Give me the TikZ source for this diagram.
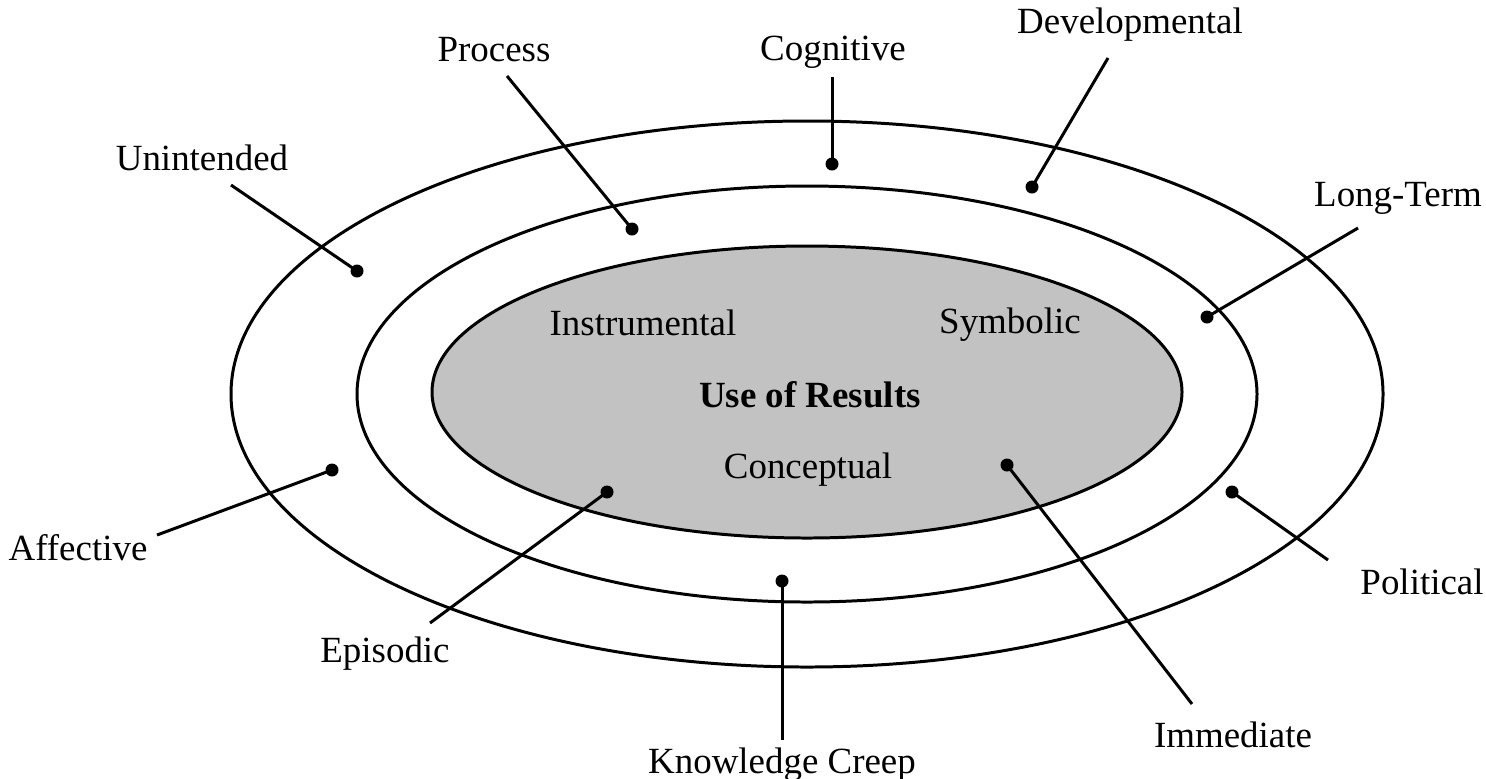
\documentclass[tikz,border=0pt]{standalone}
\usepackage{fontspec}
\setmainfont{Liberation Serif}

\tikzset{
	ring/.style={line width=0.85pt},
	lead/.style={line width=0.85pt},
	dot/.style={circle, fill=black, inner sep=0pt, minimum size=3.7pt},
	lbl/.style={font=\fontsize{10.5}{12}\selectfont, inner sep=1pt},
	core/.style={font=\fontsize{10.5}{12}\selectfont\bfseries, inner sep=1pt}
}

\begin{document}
\begin{tikzpicture}[x=0.01cm, y=-0.01cm]
	\useasboundingbox (0,0) rectangle (1486,778);
	
	% Rings
	\draw[ring] (807,394) ellipse [x radius=576, y radius=273];
	\draw[ring] (807,394) ellipse [x radius=450, y radius=208];
	\draw[ring, fill=black!24] (807,392) ellipse [x radius=375, y radius=146];
	
	% Inner texts
	\node[lbl] (instr) at (643,323) {Instrumental};
	\node[lbl] (symb) at (1010,325) {Symbolic};
	\node[core] (use) at (810,395) {Use of Results};
	\node[lbl] (concept) at (808,470) {Conceptual};
	
	% Outer labels
	\node[lbl] (process) at (494,50) {Process};
	\node[lbl] (cognitive) at (833,52) {Cognitive};
	\node[lbl] (develop) at (1130,25) {Developmental};
	\node[lbl] (unintend) at (202,158) {Unintended};
	\node[lbl] (longterm) at (1398,198) {Long-Term};
	\node[lbl] (affect) at (78,548) {Affective};
	\node[lbl] (episodic) at (385,654) {Episodic};
	\node[lbl] (creep) at (782,765) {Knowledge Creep};
	\node[lbl] (immed) at (1233,735) {Immediate};
	\node[lbl] (politic) at (1422,582) {Political};
	
	% Dots
	\node[dot] (process-dot) at (632,229) {};
	\node[dot] (cognitive-dot) at (832,164) {};
	\node[dot] (develop-dot) at (1032,187) {};
	\node[dot] (unintend-dot) at (357,271) {};
	\node[dot] (longterm-dot) at (1207,317) {};
	\node[dot] (affect-dot) at (332,470) {};
	\node[dot] (episodic-dot) at (607,492) {};
	\node[dot] (creep-dot) at (782,581) {};
	\node[dot] (immed-dot) at (1007,465) {};
	\node[dot] (politic-dot) at (1232,492) {};
	
	% Leader line ends
	\coordinate (process-end) at (507,76);
	\coordinate (cognitive-end) at (832,77);
	\coordinate (develop-end) at (1108,58);
	\coordinate (unintend-end) at (231,185);
	\coordinate (longterm-end) at (1358,228);
	\coordinate (affect-end) at (157,535);
	\coordinate (episodic-end) at (430,623);
	\coordinate (creep-end) at (782,740);
	\coordinate (immed-end) at (1192,704);
	\coordinate (politic-end) at (1328,560);
	
	% Leader lines
	\draw[lead] (process-dot.center) -- (process-end);
	\draw[lead] (cognitive-dot.center) -- (cognitive-end);
	\draw[lead] (develop-dot.center) -- (develop-end);
	\draw[lead] (unintend-dot.center) -- (unintend-end);
	\draw[lead] (longterm-dot.center) -- (longterm-end);
	\draw[lead] (affect-dot.center) -- (affect-end);
	\draw[lead] (episodic-dot.center) -- (episodic-end);
	\draw[lead] (creep-dot.center) -- (creep-end);
	\draw[lead] (immed-dot.center) -- (immed-end);
	\draw[lead] (politic-dot.center) -- (politic-end);
	
\end{tikzpicture}
\end{document}
